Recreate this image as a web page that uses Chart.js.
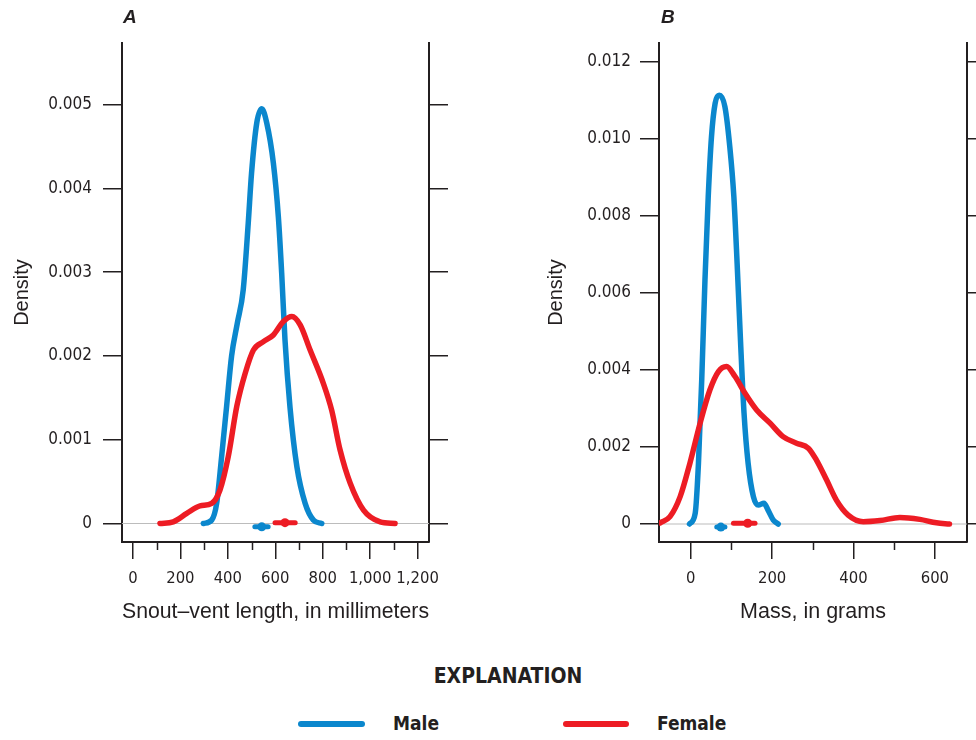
<!DOCTYPE html>
<html>
<head>
<meta charset="utf-8">
<script src="https://cdn.jsdelivr.net/npm/chart.js@4"></script>
<style>
  body { margin: 0; background: #fff; }
  #wrap { position: relative; width: 976px; height: 740px; overflow: hidden; font-family: 'Liberation Sans Narrow', 'DejaVu Sans Condensed', 'Liberation Sans', sans-serif; color: #231f20; }
  canvas { position: absolute; top: 0; }
  .panel { position: absolute; top: 6px; font: italic bold 19px 'Liberation Sans', Arial, sans-serif; }
  .expl { position: absolute; left: 0; width: 1016px; top: 664px; text-align: center; font-weight: bold; font-size: 21px; }
  .swatch { position: absolute; height: 6px; border-radius: 3px; top: 721px; }
  .lab { position: absolute; top: 712px; font-weight: bold; font-size: 19px; }
</style>
</head>
<body>
<div id="wrap">
  <canvas id="chartA" width="488" height="640" style="left:0"></canvas>
  <canvas id="chartB" width="488" height="640" style="left:488px"></canvas>
  <div class="panel" style="left:123px">A</div>
  <div class="panel" style="left:661px">B</div>
  <div class="expl">EXPLANATION</div>
  <div class="swatch" style="left:298px;width:67px;background:#0b87cd"></div>
  <div class="lab" style="left:393px">Male</div>
  <div class="swatch" style="left:563px;width:66px;background:#ed1c24"></div>
  <div class="lab" style="left:657px">Female</div>
</div>
<script>
// Panel A: snout-vent length densities
const maleLenX = [297, 332, 353, 374, 395, 416, 440, 465, 486, 500, 522, 543, 564, 592, 613, 627, 641, 662, 691, 726, 761, 796];
const maleLenY = [0, 0.00004, 0.00024, 0.0008, 0.0014, 0.002, 0.00239, 0.00279, 0.00358, 0.00418, 0.00478, 0.00495, 0.00478, 0.0043, 0.00366, 0.00299, 0.00219, 0.00139, 0.00068, 0.00024, 0.00004, 0];
const femaleLenX = [114, 170, 227, 283, 332, 367, 402, 438, 473, 508, 550, 592, 634, 670, 705, 747, 803, 838, 873, 916, 972, 1042, 1105];
const femaleLenY = [0, 0.00002, 0.00012, 0.00021, 0.00024, 0.0004, 0.0008, 0.0014, 0.00179, 0.00207, 0.00217, 0.00225, 0.00241, 0.00247, 0.00237, 0.00207, 0.00167, 0.00135, 0.00088, 0.00048, 0.00016, 0.00002, 0];
const maleLenCI = [514, 543, 570];
const femaleLenCI = [599, 641, 684];

// Panel B: mass densities
const maleMassX = [-3, 11, 19, 27, 35, 43, 51, 60, 70, 84, 96, 106, 114, 123, 131, 141, 154, 166, 180, 190, 203, 215];
const maleMassY = [0, 0.00028, 0.00158, 0.00374, 0.00634, 0.0085, 0.01006, 0.01093, 0.01114, 0.01084, 0.0098, 0.0085, 0.00677, 0.0046, 0.00288, 0.00158, 0.00071, 0.00049, 0.00054, 0.00036, 0.0001, 0];
const femaleMassX = [-75, -51, -26, -2, 23, 47, 68, 88, 109, 133, 162, 195, 227, 260, 289, 309, 334, 358, 387, 424, 465, 514, 563, 604, 636];
const femaleMassY = [0.00003, 0.00019, 0.00071, 0.00158, 0.00262, 0.00348, 0.00396, 0.00409, 0.00383, 0.0034, 0.00296, 0.00262, 0.00227, 0.0021, 0.00197, 0.00166, 0.00114, 0.00062, 0.00023, 0.00006, 0.00009, 0.00017, 0.00012, 0.00003, 0];
const maleMassCI = [64, 74, 84];
const femaleMassCI = [105, 140, 158];

// ticks
const lenTicksY = [0, 0.001, 0.002, 0.003, 0.004, 0.005];
const lenTicksX = [0, 200, 400, 600, 800, 1000, 1200];
const lenMinorX = [100, 300, 500, 700, 900, 1100];
const massTicksY = [0, 0.002, 0.004, 0.006, 0.008, 0.010, 0.012];
const massTicksX = [0, 200, 400, 600];
const massMinorX = [100, 300, 500];

const ink = '#231f20';
const blue = '#0b87cd';
const red = '#ed1c24';
const narrow = "'Liberation Sans Narrow', 'DejaVu Sans Condensed', 'Liberation Sans', sans-serif";
const yTickFont = { family: narrow, size: 17 };
const xTickFont = { family: narrow, size: 16.5 };
const titleFont = { family: "'Liberation Sans', Arial, sans-serif", size: 21.5 };

function pts(xs, ys) {
    return xs.map((x, i) => ({ x: x, y: ys[i] }));
}

function curve(xs, ys, color) {
    return {
        data: pts(xs, ys),
        borderColor: color,
        borderWidth: 5.5,
        pointRadius: 0,
        cubicInterpolationMode: 'monotone',
        borderCapStyle: 'round',
        borderJoinStyle: 'round',
        fill: false
    };
}

function ciMark(ci, yPos, color) {
    return {
        data: ci.map(x => ({ x: x, y: yPos })),
        borderColor: color,
        backgroundColor: color,
        borderWidth: 5,
        borderCapStyle: 'round',
        pointRadius: ctx => ctx.dataIndex === 1 ? 4.5 : 0,
        pointBorderWidth: 0,
        tension: 0
    };
}

// gray zero line and short minor ticks under the x axis
const extras = {
    id: 'extras',
    beforeDatasetsDraw(chart) {
        const { ctx, chartArea, scales } = chart;
        const y0 = scales.y.getPixelForValue(0);
        ctx.save();
        ctx.strokeStyle = '#bcbcbc';
        ctx.lineWidth = 1.2;
        ctx.beginPath();
        ctx.moveTo(chartArea.left, y0);
        ctx.lineTo(chartArea.right, y0);
        ctx.stroke();
        ctx.restore();
    },
    afterDraw(chart, args, opts) {
        const { ctx, chartArea, scales } = chart;
        ctx.save();
        ctx.strokeStyle = ink;
        ctx.lineWidth = 1.5;
        (opts.minor || []).forEach(v => {
            const px = Math.round(scales.x.getPixelForValue(v)) + 0.5;
            ctx.beginPath();
            ctx.moveTo(px, chartArea.bottom);
            ctx.lineTo(px, chartArea.bottom + 8);
            ctx.stroke();
        });
        ctx.restore();
    }
};

function makePanel(id, cfg) {
    const yAxis = {
        type: 'linear',
        min: cfg.yMin,
        max: cfg.yMax,
        afterBuildTicks: s => { s.ticks = cfg.ticksY.map(v => ({ value: v })); },
        grid: { drawOnChartArea: false, tickLength: 19, color: ink, lineWidth: 1.5 },
        border: { display: true, color: ink, width: 2 }
    };
    new Chart(document.getElementById(id), {
        type: 'line',
        data: { datasets: cfg.datasets },
        plugins: [extras],
        options: {
            responsive: false,
            animation: false,
            layout: { padding: { top: 43, left: 0, right: 0, bottom: 0 } },
            plugins: {
                legend: { display: false },
                tooltip: { enabled: false },
                extras: { minor: cfg.minorX }
            },
            scales: {
                x: {
                    type: 'linear',
                    min: cfg.xMin,
                    max: cfg.xMax,
                    afterBuildTicks: s => { s.ticks = cfg.ticksX.map(v => ({ value: v })); },
                    afterFit: s => { s.height = 98; },
                    ticks: {
                        padding: 10, color: ink, font: xTickFont, maxRotation: 0, autoSkip: false,
                        callback: v => v.toLocaleString('en-US')
                    },
                    grid: { drawOnChartArea: false, tickLength: 17, color: ink, lineWidth: 1.5 },
                    border: { display: true, color: ink, width: 2 },
                    title: { display: true, text: cfg.xTitle, color: ink, font: titleFont, padding: { top: 0, bottom: 15 } }
                },
                y: Object.assign({}, yAxis, {
                    position: 'left',
                    afterFit: s => { s.width = cfg.leftW; },
                    ticks: {
                        padding: cfg.labelPad, color: ink, font: yTickFont,
                        callback: v => v === 0 ? '0' : v.toFixed(3)
                    },
                    title: {
                        display: true, text: 'Density', color: ink,
                        font: { family: titleFont.family, size: 20 },
                        padding: { top: cfg.titlePad, bottom: 0 }
                    }
                }),
                y2: Object.assign({}, yAxis, {
                    position: 'right',
                    afterFit: s => { s.width = cfg.rightW; },
                    ticks: { display: false }
                })
            }
        }
    });
}

makePanel('chartA', {
    xMin: -46, xMax: 1248, yMin: -0.000221, yMax: 0.005734,
    ticksX: lenTicksX, ticksY: lenTicksY, minorX: lenMinorX,
    leftW: 122, rightW: 59, labelPad: 11, titlePad: 10,
    xTitle: 'Snout\u2013vent length, in millimeters',
    datasets: [
        curve(femaleLenX, femaleLenY, red),
        curve(maleLenX, maleLenY, blue),
        ciMark(maleLenCI, -0.00004, blue),
        ciMark(femaleLenCI, 0.00001, red)
    ]
});

makePanel('chartB', {
    xMin: -78, xMax: 679, yMin: -0.000468, yMax: 0.012494,
    ticksX: massTicksX, ticksY: massTicksY, minorX: massMinorX,
    leftW: 171, rightW: 9, labelPad: 9, titlePad: 56,
    xTitle: 'Mass, in grams',
    datasets: [
        curve(femaleMassX, femaleMassY, red),
        curve(maleMassX, maleMassY, blue),
        ciMark(maleMassCI, -0.00008, blue),
        ciMark(femaleMassCI, 0.00002, red)
    ]
});
</script>
</body>
</html>
